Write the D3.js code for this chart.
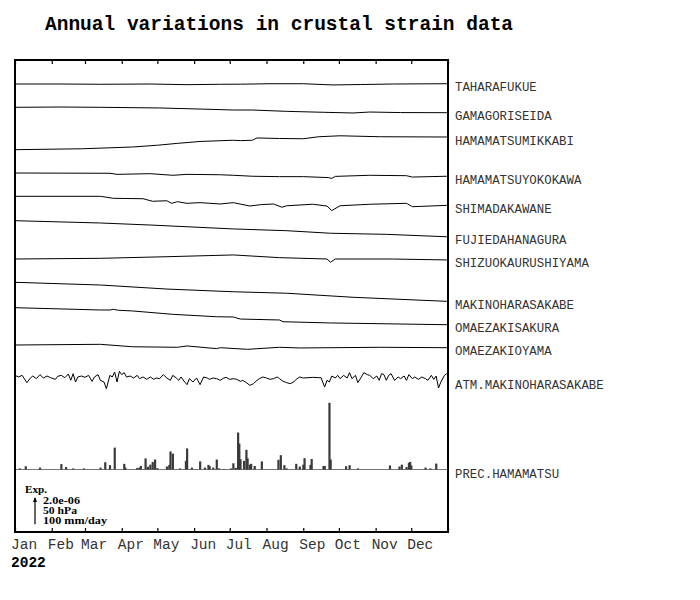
<!DOCTYPE html>
<html>
<head>
<meta charset="utf-8">
<script src="https://cdn.jsdelivr.net/npm/d3@7"></script>
<style>
  body { margin: 0; background: #fff; }
</style>
</head>
<body>
<div id="chart"></div>
<script>
// station names, top to bottom
const stationNames = [
  "TAHARAFUKUE", "GAMAGORISEIDA", "HAMAMATSUMIKKABI", "HAMAMATSUYOKOKAWA",
  "SHIMADAKAWANE", "FUJIEDAHANAGURA", "SHIZUOKAURUSHIYAMA", "MAKINOHARASAKABE",
  "OMAEZAKISAKURA", "OMAEZAKIOYAMA"
]
const atmName = "ATM.MAKINOHARASAKABE"
const precName = "PREC.HAMAMATSU"

// strain change since Jan 1, [day of year, value in 1e-6]
const taharafukue = [[0,0],[38,0],[72,-0.02],[114,0],[145,-0.05],[173,-0.02],[190,-0.015],[215,0.02],[243,0.02],[268,-0.07],[291,-0.04],[319,0],[364,0.02]]
const gamagoriseida = [[0,0],[38,0.02],[72,0],[122,-0.05],[156,-0.13],[184,-0.2],[200,-0.2],[229,-0.3],[260,-0.37],[285,-0.42],[299,-0.35],[325,-0.39],[364,-0.4]]
const hamamatsumikkabi = [[0,0],[57,0.07],[99,0.2],[120,0.33],[137,0.47],[156,0.61],[184,0.7],[190,0.67],[200,0.7],[204,0.87],[223,0.83],[243,0.81],[256,0.96],[274,1.03],[308,0.96],[364,0.94]]
const hamamatsuyokokawa = [[0,0],[80,-0.02],[86,-0.1],[114,-0.05],[133,-0.17],[145,-0.1],[173,-0.13],[184,-0.17],[200,-0.24],[223,-0.27],[243,-0.27],[264,-0.34],[267,-0.4],[270,-0.25],[299,-0.17],[330,-0.2],[335,-0.3],[364,-0.24]]
const shimadakawane = [[0,0],[72,0],[83,-0.15],[108,-0.18],[116,-0.37],[128,-0.33],[132,-0.52],[137,-0.4],[145,-0.52],[156,-0.47],[173,-0.57],[184,-0.47],[198,-0.72],[207,-0.62],[218,-0.57],[225,-0.81],[229,-0.7],[251,-0.59],[263,-0.72],[267,-1.06],[274,-0.7],[299,-0.59],[330,-0.52],[335,-0.77],[364,-0.67]]
const fujiedahanagura = [[0,0],[72,-0.17],[114,-0.32],[184,-0.61],[229,-0.74],[266,-0.93],[313,-1.01],[364,-1.19]]
const shizuokaurushiyama = [[0,0],[72,0.05],[128,0.17],[184,0.3],[223,0.1],[263,0],[266,-0.24],[270,0],[318,0],[364,-0.07]]
const makinoharasakabe = [[0,0],[72,-0.2],[128,-0.5],[184,-0.7],[229,-0.81],[285,-1.11],[364,-1.41]]
const omaezakisakura = [[0,0],[72,-0.17],[80,-0.17],[83,-0.12],[87,-0.19],[99,-0.24],[133,-0.49],[170,-0.67],[184,-0.69],[190,-0.84],[223,-0.91],[226,-1.04],[266,-1.13],[364,-1.26]]
const omaezakioyama = [[0,0],[72,0.05],[99,-0.13],[137,-0.17],[145,-0.07],[170,-0.27],[173,-0.2],[196,-0.32],[223,-0.17],[240,-0.22],[308,-0.17],[364,-0.2]]

const strainSeries = [taharafukue, gamagoriseida, hamamatsumikkabi, hamamatsuyokokawa,
  shimadakawane, fujiedahanagura, shizuokaurushiyama, makinoharasakabe, omaezakisakura, omaezakioyama]

// atmospheric pressure anomaly, [day of year, hPa]
const atmPressure = [[0,4.9],[3,1.9],[6,4.9],[10,-8.6],[13,0],[15,3.7],[18,-1.2],[21,6.2],[24,0],[27,3.7],[30,0.6],[34,-2.5],[36,3.1],[39,4.9],[42,0.6],[45,7.4],[47,-4.3],[49,8.0],[51,-7.4],[53,1.9],[56,3.7],[59,1.2],[62,4.9],[65,-6.2],[67,1.9],[70,6.2],[72,-4.3],[75,-7.4],[77,-19.8],[80,4.9],[82,1.9],[84,11.1],[86,-7.4],[88,12.3],[90,6.2],[92,9.9],[94,1.9],[97,3.7],[100,0],[103,4.9],[105,-1.2],[108,1.9],[111,-2.5],[114,1.9],[117,-2.5],[119,0],[122,-1.2],[125,6.2],[128,0],[131,-4.3],[133,4.9],[136,0],[138,-4.3],[140,1.9],[143,-7.4],[145,-12.3],[147,-1.2],[150,-7.4],[153,0],[156,-12.3],[159,1.9],[162,0],[164,-2.5],[167,0],[170,-1.2],[173,-4.3],[176,0],[178,1.2],[181,-2.5],[184,-1.2],[187,-2.5],[190,-6.2],[192,-4.3],[195,-8.6],[198,-13.6],[201,-10.5],[204,-4.3],[206,-1.2],[209,1.9],[212,0],[215,-2.5],[218,-1.2],[221,1.9],[223,-1.2],[226,-6.2],[229,-8.6],[232,-10.5],[235,-7.4],[237,-2.5],[240,1.9],[243,0],[247,0.6],[251,1.2],[256,0.6],[258,0.6],[261,-16.7],[263,-4.3],[265,-7.4],[267,3.7],[270,0],[272,4.9],[274,-1.2],[277,4.9],[280,0],[282,9.9],[284,-1.2],[287,4.9],[289,-8.6],[292,1.9],[294,9.9],[297,6.2],[299,4.9],[302,-1.2],[305,3.7],[307,-4.3],[309,8.0],[311,6.2],[313,-4.3],[315,4.9],[317,8.0],[320,-4.3],[323,1.9],[325,-1.2],[328,3.7],[330,-4.3],[332,6.2],[335,-1.2],[337,1.9],[340,-2.5],[343,1.9],[346,-1.2],[348,-4.3],[351,4.9],[353,-2.5],[355,3.7],[357,-18.5],[359,-7.4],[362,4.9],[364,8.0]]

// daily precipitation, [day of year, mm/day]
const precipitation = [[4,4],[9,12],[21,7],[39,20],[43,9],[49,4],[58,4],[72,7],[76,27],[80,16],[84,81],[92,21],[93,7],[103,6],[105,7],[106,13],[110,41],[112,10],[114,18],[116,28],[118,37],[120,5],[128,11],[130,17],[131,67],[133,59],[139,4],[144,32],[145,78],[149,7],[156,30],[160,7],[163,17],[164,12],[167,7],[170,37],[172,4],[176,2],[182,4],[184,23],[186,6],[188,137],[189,96],[190,38],[193,32],[195,73],[196,41],[198,18],[199,21],[202,13],[208,30],[222,36],[224,53],[227,16],[229,4],[237,21],[240,11],[243,18],[244,42],[249,17],[250,39],[260,13],[261,13],[265,247],[266,37],[279,12],[282,16],[289,4],[316,15],[324,11],[326,18],[330,9],[332,25],[333,28],[334,15],[346,7],[350,4],[355,22]]

const monthLabels = ["Jan","Feb","Mar","Apr","May","Jun","Jul","Aug","Sep","Oct","Nov","Dec"]
const yearLabel = "2022"
const legendLines = ["2.0e-06", "50 hPa", "100 mm/day"]

// layout
const width = 700, height = 600
const plot = { left: 15, right: 448, top: 60, bottom: 532 }
const traceBase = [84, 107.3, 149.7, 173, 196.3, 220.7, 259, 282.3, 307.7, 345]
const atmBase = 378
const precBase = 469.5
const mono = "'Liberation Mono', 'Courier New', monospace"

const svg = d3.select("#chart").append("svg").attr("width", width).attr("height", height)
  .style("font-family", mono)

const start = new Date(Date.UTC(2022, 0, 1))
const end = new Date(Date.UTC(2023, 0, 1))
const x = d3.scaleUtc().domain([start, end]).range([plot.left, plot.right])
const dayX = (d) => x(d3.utcDay.offset(start, d))

// scale bar: 2.0e-06 strain = 50 hPa = 100 mm/day
const strainY = d3.scaleLinear().domain([0, 2]).range([0, 27])
const pressY = d3.scaleLinear().domain([0, 50]).range([0, 27])
const precY = d3.scaleLinear().domain([0, 100]).range([0, 27])

// title
svg.append("text").attr("x", 45).attr("y", 30)
  .attr("font-size", 19.5).attr("font-weight", "bold").text("Annual variations in crustal strain data")

// strain traces
strainSeries.forEach((s, i) => {
  const line = d3.line().x((d) => dayX(d[0])).y((d) => traceBase[i] - strainY(d[1]))
  svg.append("path").datum(s).attr("d", line)
    .attr("fill", "none").attr("stroke", "#000").attr("stroke-width", 1)
  const last = s[s.length - 1]
  svg.append("text").attr("x", 455).attr("y", traceBase[i] - strainY(last[1]) + 7.5)
    .attr("font-size", 12.4).attr("fill", "#333").text(stationNames[i])
})

// pressure
const atmLine = d3.line().x((d) => dayX(d[0])).y((d) => atmBase - pressY(d[1]))
svg.append("path").datum(atmPressure).attr("d", atmLine)
  .attr("fill", "none").attr("stroke", "#000").attr("stroke-width", 1)
svg.append("text").attr("x", 455).attr("y", atmBase + 11).attr("font-size", 12.4)
  .attr("fill", "#333").text(atmName)

// precipitation
svg.append("line").attr("x1", plot.left).attr("x2", plot.right).attr("y1", precBase).attr("y2", precBase)
  .attr("stroke", "#777").attr("stroke-width", 1)
svg.selectAll("rect.prec").data(precipitation).enter().append("rect").attr("class", "prec")
  .attr("x", (d) => dayX(d[0]) - 1)
  .attr("y", (d) => precBase - precY(d[1]))
  .attr("width", 2.2)
  .attr("height", (d) => precY(d[1]))
  .attr("fill", "#3a3a3a")
svg.append("text").attr("x", 455).attr("y", precBase + 8).attr("font-size", 12.4)
  .attr("fill", "#333").text(precName)

// month ticks, inward on top and bottom
const months = x.ticks(d3.utcMonth.every(1))
svg.append("g").attr("transform", `translate(0,${plot.top})`)
  .call(d3.axisBottom(x).tickValues(months).tickSize(4).tickFormat(""))
  .call((g) => g.select(".domain").remove())
svg.append("g").attr("transform", `translate(0,${plot.bottom})`)
  .call(d3.axisTop(x).tickValues(months).tickSize(4).tickFormat(""))
  .call((g) => g.select(".domain").remove())
svg.selectAll(".tick line").attr("stroke", "#000").attr("stroke-width", 1.2)

// frame
svg.append("rect").attr("x", plot.left).attr("y", plot.top)
  .attr("width", plot.right - plot.left).attr("height", plot.bottom - plot.top)
  .attr("fill", "none").attr("stroke", "#000").attr("stroke-width", 2)

// month labels
svg.selectAll("text.month").data(months.slice(0, 12)).enter().append("text").attr("class", "month")
  .attr("x", (d) => x(d) - 4).attr("y", 549)
  .attr("font-size", 14.5).attr("fill", "#333")
  .text((d, i) => monthLabels[i])
svg.append("text").attr("x", 11).attr("y", 566.5).attr("font-size", 14.5).attr("font-weight", "bold")
  .text(yearLabel)

// scale legend
const legend = svg.append("g").style("font-family", "'Liberation Serif', 'Times New Roman', serif")
  .attr("font-weight", "bold").attr("font-size", 10)
legend.append("text").attr("x", 25).attr("y", 492.5).attr("textLength", 22)
  .attr("lengthAdjust", "spacingAndGlyphs").text("Exp.")
legend.append("line").attr("x1", 35).attr("x2", 35).attr("y1", 498).attr("y2", 524.3)
  .attr("stroke", "#000").attr("stroke-width", 1.2)
legend.append("path").attr("d", "M35,497 L33,502 L37,502 Z").attr("fill", "#000")
const legendLen = [37, 34, 64]
legend.selectAll("text.scale").data(legendLines).enter().append("text").attr("class", "scale")
  .attr("x", 43).attr("y", (d, i) => [504, 514, 523.5][i])
  .attr("textLength", (d, i) => legendLen[i]).attr("lengthAdjust", "spacingAndGlyphs")
  .text((d) => d)
</script>
</body>
</html>
